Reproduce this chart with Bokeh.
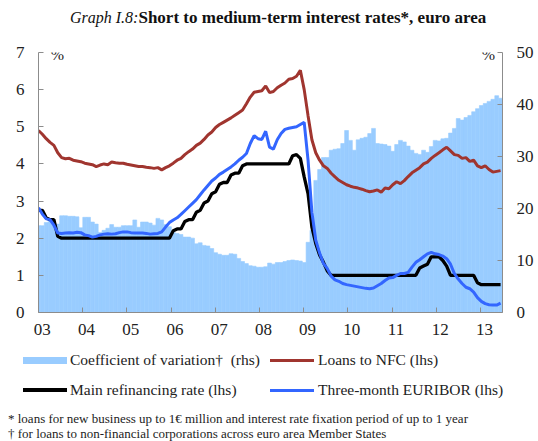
from bokeh.plotting import figure
from bokeh.layouts import column
from bokeh.models import Range1d, LinearAxis, FixedTicker, Label, ColumnDataSource, Div
from bokeh.embed import file_html
from bokeh.resources import INLINE

# ---------------- data (monthly, Jan 2003 .. Jan 2013) ----------------
YEAR_LABELS = ["03", "04", "05", "06", "07", "08", "09", "10", "11", "12", "13"]
SERIES_NAMES = ["Coefficient of variation\u2020&nbsp; (rhs)", "Loans to NFC (lhs)",
                "Main refinancing rate (lhs)", "Three-month EURIBOR (lhs)"]

coef_variation = [
    16.7, 16.7, 17.3, 17.5, 17.0, 17.0, 18.6, 18.6, 18.5, 18.5, 18.4, 16.3,
    18.3, 18.3, 17.4, 17.0, 15.4, 15.8, 16.2, 16.9, 16.4, 16.4, 16.7, 16.7,
    16.7, 17.8, 16.4, 17.4, 17.4, 17.2, 16.8, 18.1, 17.8, 16.9, 16.5, 15.4,
    15.2, 15.0, 14.5, 14.5, 14.3, 13.2, 13.4, 12.9, 12.8, 12.3, 11.5, 11.2,
    11.0, 11.0, 11.3, 11.2, 10.4, 9.8, 9.4, 9.0, 8.9, 8.7, 8.7, 8.8,
    9.5, 9.3, 9.6, 9.6, 9.8, 10.0, 10.1, 10.0, 9.9, 9.6, 13.5, 15.8,
    25.4, 27.5, 29.8, 29.8, 31.2, 31.4, 31.5, 32.5, 35.0, 33.1, 31.2, 33.2,
    33.5, 33.7, 34.4, 35.4, 32.5, 32.4, 32.3, 32.0, 31.0, 32.3, 33.1, 32.8,
    32.0, 31.2, 30.6, 30.4, 31.2, 30.8, 31.9, 33.1, 33.0, 33.4, 33.5, 34.5,
    35.4, 37.3, 37.0, 37.5, 37.9, 38.6, 39.2, 39.8, 40.2, 40.6, 41.0, 41.7,
    41.2,
]

loans_nfc = [
    4.90, 4.80, 4.68, 4.58, 4.50, 4.30, 4.17, 4.14, 4.15, 4.10, 4.08, 4.06,
    4.02, 4.00, 3.98, 3.93, 3.97, 4.00, 3.98, 4.05, 4.03, 4.02, 4.02, 3.99,
    3.97, 3.95, 3.93, 3.93, 3.91, 3.90, 3.88, 3.90, 3.84, 3.90, 3.95, 4.02,
    4.10, 4.15, 4.25, 4.33, 4.40, 4.50, 4.56, 4.66, 4.78, 4.86, 4.98, 5.06,
    5.12, 5.18, 5.24, 5.31, 5.38, 5.45, 5.62, 5.80, 5.93, 5.95, 5.97, 6.10,
    5.92, 5.95, 6.05, 6.12, 6.18, 6.28, 6.30, 6.36, 6.52, 6.00, 5.30, 4.65,
    4.30, 4.10, 3.95, 3.88, 3.75, 3.65, 3.56, 3.50, 3.44, 3.40, 3.37, 3.35,
    3.32, 3.28, 3.25, 3.27, 3.30, 3.24, 3.35, 3.33, 3.44, 3.52, 3.47, 3.55,
    3.66, 3.76, 3.83, 3.90, 4.00, 4.05, 4.15, 4.23, 4.30, 4.38, 4.45, 4.35,
    4.25, 4.23, 4.15, 4.17, 4.07, 4.10, 3.95, 3.90, 3.95, 3.85, 3.78, 3.80,
    3.82,
]

main_refi = [
    2.75, 2.75, 2.55, 2.50, 2.50, 2.05, 2.00, 2.00, 2.00, 2.00, 2.00, 2.00,
    2.00, 2.00, 2.00, 2.00, 2.00, 2.00, 2.00, 2.00, 2.00, 2.00, 2.00, 2.00,
    2.00, 2.00, 2.00, 2.00, 2.00, 2.00, 2.00, 2.00, 2.00, 2.00, 2.00, 2.20,
    2.25, 2.25, 2.45, 2.50, 2.50, 2.70, 2.75, 2.95, 3.00, 3.20, 3.25, 3.45,
    3.50, 3.50, 3.70, 3.75, 3.75, 3.95, 4.00, 4.00, 4.00, 4.00, 4.00, 4.00,
    4.00, 4.00, 4.00, 4.00, 4.00, 4.00, 4.22, 4.25, 4.15, 3.65, 3.20, 2.30,
    1.86, 1.55, 1.35, 1.12, 1.00, 1.00, 1.00, 1.00, 1.00, 1.00, 1.00, 1.00,
    1.00, 1.00, 1.00, 1.00, 1.00, 1.00, 1.00, 1.00, 1.00, 1.00, 1.00, 1.00,
    1.00, 1.00, 1.00, 1.20, 1.25, 1.30, 1.50, 1.50, 1.50, 1.40, 1.25, 1.00,
    1.00, 1.00, 1.00, 1.00, 1.00, 1.00, 0.80, 0.75, 0.75, 0.75, 0.75, 0.75,
    0.75,
]

euribor_3m = [
    2.82, 2.65, 2.52, 2.50, 2.35, 2.14, 2.13, 2.14, 2.15, 2.14, 2.16, 2.15,
    2.09, 2.07, 2.03, 2.05, 2.09, 2.11, 2.12, 2.11, 2.12, 2.15, 2.17, 2.17,
    2.15, 2.14, 2.14, 2.14, 2.13, 2.11, 2.12, 2.13, 2.17, 2.30, 2.42, 2.49,
    2.55, 2.64, 2.74, 2.84, 2.94, 3.04, 3.17, 3.30, 3.42, 3.54, 3.62, 3.72,
    3.78, 3.85, 3.92, 4.00, 4.10, 4.18, 4.28, 4.55, 4.76, 4.68, 4.66, 4.88,
    4.45, 4.40, 4.65, 4.82, 4.93, 4.96, 4.98, 5.00, 5.06, 5.12, 4.10, 2.70,
    1.95, 1.60, 1.32, 1.18, 0.98, 0.88, 0.84, 0.78, 0.75, 0.73, 0.71, 0.69,
    0.67, 0.65, 0.64, 0.66, 0.72, 0.78, 0.86, 0.93, 0.94, 1.00, 1.05, 1.05,
    1.08, 1.22, 1.35, 1.42, 1.50, 1.58, 1.62, 1.58, 1.56, 1.52, 1.45, 1.30,
    1.05, 0.90, 0.78, 0.68, 0.64, 0.55, 0.40, 0.30, 0.24, 0.21, 0.20, 0.20,
    0.25,
]

months = list(range(len(loans_nfc)))

# ---------------- styling ----------------
CV_COLOR = "#99CCFF"
NFC_COLOR = "#A0352F"
MRO_COLOR = "#000000"
EUR_COLOR = "#3366FF"
AXIS_COLOR = "#8C8C8C"
TEXT_COLOR = "#222222"
FONT = "Times New Roman"
CSS_FONT = "'Liberation Serif', 'Times New Roman', serif"

src = ColumnDataSource(dict(m=months, cv=coef_variation, nfc=loans_nfc,
                            mro=main_refi, eur=euribor_3m))

# ---------------- main chart ----------------
p = figure(width=538, height=301, output_backend="svg", toolbar_location=None,
           x_range=Range1d(0, 120.5), y_range=Range1d(0, 7),
           min_border_left=38, min_border_right=36, min_border_top=8,
           min_border_bottom=33)
p.extra_y_ranges = {"rhs": Range1d(0, 50)}
p.outline_line_color = None
p.xgrid.visible = False
p.ygrid.visible = False

p.vbar(x="m", top="cv", width=1.0, source=src, y_range_name="rhs",
       fill_color=CV_COLOR, line_color=CV_COLOR, line_width=0.6)
p.line("m", "mro", source=src, line_color=MRO_COLOR, line_width=3.3)
p.line("m", "eur", source=src, line_color=EUR_COLOR, line_width=3.0)
p.line("m", "nfc", source=src, line_color=NFC_COLOR, line_width=3.0)

yl = p.yaxis[0]
yl.ticker = FixedTicker(ticks=[0, 1, 2, 3, 4, 5, 6, 7])
yr = LinearAxis(y_range_name="rhs", ticker=FixedTicker(ticks=[0, 10, 20, 30, 40, 50]))
p.add_layout(yr, "right")
for ax in (yl, yr):
    ax.axis_line_color = AXIS_COLOR
    ax.major_tick_line_color = AXIS_COLOR
    ax.major_tick_in = 5
    ax.major_tick_out = 0
    ax.minor_tick_line_color = None
    ax.major_label_text_font = FONT
    ax.major_label_text_font_size = "17px"
    ax.major_label_text_color = TEXT_COLOR
    ax.major_label_standoff = 14

step = 11.48
tick_pos = [k * step for k in range(len(YEAR_LABELS))]
label_pos = [round(t + 1.0, 3) for t in tick_pos]
xa = p.xaxis[0]
xa.ticker = FixedTicker(ticks=label_pos, minor_ticks=tick_pos)
xa.major_label_overrides = {lp: lab for lp, lab in zip(label_pos, YEAR_LABELS)}
xa.axis_line_color = AXIS_COLOR
xa.major_tick_line_color = None
xa.major_tick_in = 0
xa.major_tick_out = 0
xa.minor_tick_line_color = AXIS_COLOR
xa.minor_tick_in = 5
xa.minor_tick_out = 0
xa.major_label_text_font = FONT
xa.major_label_text_font_size = "17px"
xa.major_label_text_color = TEXT_COLOR
xa.major_label_standoff = 11

for sx, txt in ((19, "%"), (450, "%")):
    p.add_layout(Label(x=sx, y=258, x_units="screen", y_units="screen", text=txt,
                       text_font=FONT, text_font_size="16px", text_align="center",
                       text_baseline="middle", text_color=TEXT_COLOR))

# ---------------- legend (HTML) ----------------
def swatch(left, cy, color, h):
    return (f'<div style="position:absolute;left:{left}px;top:{cy - h / 2}px;'
            f'width:44px;height:{h}px;background:{color}"></div>')

def legend_text(left, cy, text):
    return (f'<div style="position:absolute;left:{left}px;top:{cy - 10}px;'
            f'line-height:20px;white-space:nowrap">{text}</div>')

legend_html = ('<div style="position:relative;width:538px;height:65px">'
               + swatch(23, 15, CV_COLOR, 7) + legend_text(70, 15, SERIES_NAMES[0])
               + swatch(270, 15, NFC_COLOR, 3) + legend_text(318, 15, SERIES_NAMES[1])
               + swatch(23, 45, MRO_COLOR, 3.5) + legend_text(70, 45, SERIES_NAMES[2])
               + swatch(270, 45, EUR_COLOR, 3) + legend_text(318, 45, SERIES_NAMES[3])
               + '</div>')
legend_div = Div(text=legend_html, width=538, height=65, margin=0,
                 styles={"font-family": CSS_FONT, "font-size": "15.5px", "color": TEXT_COLOR})

# ---------------- title and footnotes ----------------
title_div = Div(
    text='<span style="font-style:italic;font-size:16px">Graph I.8:</span>'
         '<span style="font-weight:bold;font-size:17px">Short to medium-term interest rates*, euro area</span>',
    width=538, height=44, margin=0,
    styles={"font-family": CSS_FONT, "padding-left": "70px", "padding-top": "8px",
            "line-height": "20px", "color": "#111111", "box-sizing": "border-box"})

foot_div = Div(
    text="* loans for new business up to 1\u20ac million and interest rate fixation period of up to 1 year<br>"
         "\u2020 for loans to non-financial corporations across euro area Member States",
    width=538, height=31, margin=0,
    styles={"font-family": CSS_FONT, "font-size": "13px", "line-height": "15px",
            "padding-top": "1px", "padding-left": "8px", "color": TEXT_COLOR,
            "box-sizing": "border-box", "white-space": "nowrap"})

layout = column(title_div, p, legend_div, foot_div, spacing=0)

open("out.html", "w").write(file_html(layout, INLINE))
